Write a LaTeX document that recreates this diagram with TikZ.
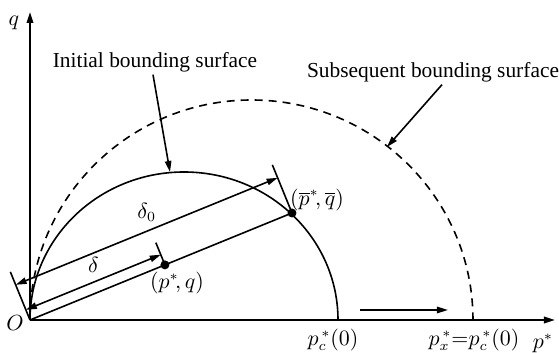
\documentclass[tikz,border=0pt]{standalone}
\usepackage{fontspec}
\setmainfont{Liberation Serif}
\usepackage{tikz}
\usetikzlibrary{arrows.meta,positioning,calc}
\usepackage{amsmath}

\begin{document}
\begin{tikzpicture}[x=0.5pt, y=0.5pt, line width=0.8pt,
    font=\fontsize{10.7}{12}\selectfont,
    >={Triangle[length=5.5pt,width=3.2pt]},
    ptdot/.style={circle, fill=black, inner sep=0pt, minimum size=4.5pt},
    surfdash/.style={dash pattern=on 4pt off 3pt},
    surflab/.style={inner sep=1pt}]
  \useasboundingbox (-30,-33) rectangle (529,320);
  % axes
  \coordinate (O) at (0,0);
  \coordinate (qtip) at (0,308);
  \coordinate (ptip) at (525,0);
  \draw[line width=1pt, ->] (O) -- (qtip);
  \draw[line width=1pt, ->] (O) -- (ptip);
  \node (qlab) at (-16,297) {$q$};
  \node (plab) at (513,-23) {$p^*$};
  \node (olab) at (-15,-3) {$O$};
  % bounding surfaces
  \draw (O) arc[start angle=180, end angle=0, x radius=154, y radius=148] coordinate (pc);
  \draw[surfdash] (O) arc[start angle=180, end angle=0, x radius=221.5, y radius=220] coordinate (px);
  \node (pclab) at (303,-20) {$p_c^{\,*}(0)$};
  \node (pxlab) at (444,-20) {$p_x^{\,*}{=}p_c^{\,*}(0)$};
  \coordinate (h1) at (330,10);
  \coordinate (h2) at (418,10);
  \draw[->] (h1) -- (h2);
  % stress points
  \coordinate (B) at (262,107);
  \coordinate (A) at ($(O)!0.515!(B)$);
  \draw (O) -- (B);
  \node[ptdot] (Adot) at (A) {};
  \node[ptdot] (Bdot) at (B) {};
  \node (Alab) at (147,37) {$(p^{*}\!,q)$};
  \node (Blab) at (287,120) {$(\overline{p}^{*}\!,\overline{q})$};
  % distances
  \draw (O) -- ($(O)+(112.2:52)$) coordinate (t0);
  \draw (B) -- ($(B)+(112.2:52)$) coordinate (tB);
  \draw (A) -- ($(A)+(112.2:24)$) coordinate (tA);
  \draw[<->] ($(O)+(112.2:38)$) -- node[above=1pt, pos=0.5] (d0lab) {$\delta_0$} ($(B)+(112.2:38)$);
  \draw[<->] ($(O)+(112.2:11)$) -- node[above=1pt, pos=0.5] (dlab) {$\delta$} ($(A)+(112.2:11)$);
  % labels
  \node[surflab] (initlab) at (125,258) {Initial bounding surface};
  \node[surflab] (sublab) at (403,248) {Subsequent bounding surface};
  \coordinate (initpt) at (140,148);
  \coordinate (subpt) at (357,173);
  \draw[->] (initlab.south) ++(-2,0) -- (initpt);
  \draw[->] (sublab.south) ++(9,0) -- (subpt);
\end{tikzpicture}
\end{document}
